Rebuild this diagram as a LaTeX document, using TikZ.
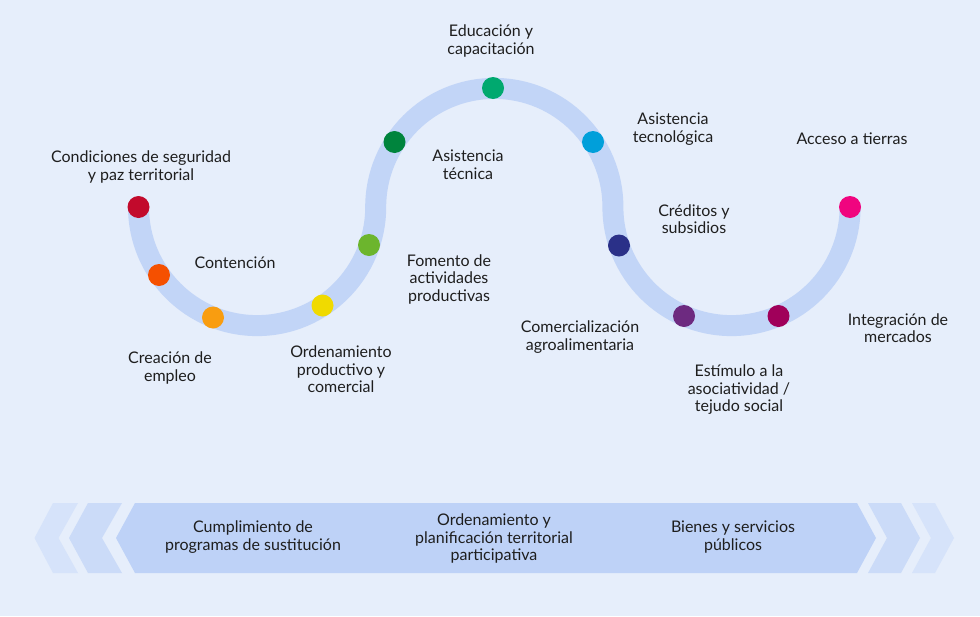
\documentclass[tikz,border=0pt]{standalone}
\usepackage{fontspec}
\setmainfont{Lato}
\usetikzlibrary{positioning}

\definecolor{bgblue}{HTML}{E6EEFB}
\definecolor{trackblue}{HTML}{C2D5F7}
\definecolor{bannerblue}{HTML}{BED2F7}
\definecolor{chevmid}{HTML}{CBDBF8}
\definecolor{chevout}{HTML}{D6E3FA}
\definecolor{textgray}{HTML}{1E1E1E}

\definecolor{cRed}{HTML}{C20A2C}
\definecolor{cOrangeRed}{HTML}{F55000}
\definecolor{cOrange}{HTML}{F99D10}
\definecolor{cYellow}{HTML}{F0DA00}
\definecolor{cLime}{HTML}{6CB52D}
\definecolor{cDarkGreen}{HTML}{00843D}
\definecolor{cTeal}{HTML}{00A96F}
\definecolor{cBlue}{HTML}{009FDA}
\definecolor{cNavy}{HTML}{2A3088}
\definecolor{cPurple}{HTML}{6D2A80}
\definecolor{cMaroon}{HTML}{A0005A}
\definecolor{cPink}{HTML}{F0047F}

\begin{document}
\begin{tikzpicture}[
	x=1pt,
	y=-1pt,
	trackline/.style={
		draw=trackblue,
		line width=21pt
	},
	stopdot/.style={
		circle,
		minimum size=22pt,
		inner sep=0pt,
		fill=#1
	},
	tagtext/.style={
		align=center,
		inner sep=0pt,
		text=textgray,
		font=\fontsize{16}{17.5}\selectfont
	}
]

\useasboundingbox (0,0) rectangle (980,616);
\fill[bgblue] (0,0) rectangle (980,616);



\def\trackradius{118.6}

\draw[trackline] (138.5,207)
	arc[start angle=180, end angle=0, radius=\trackradius]
	arc[start angle=180, end angle=360, radius=\trackradius]
	arc[start angle=180, end angle=0, radius=\trackradius];



\foreach \px/\py/\col [count=\i] in {
	138.5/207/cRed,
	159/275/cOrangeRed,
	213/317.5/cOrange,
	322.5/305.5/cYellow,
	369/245/cLime,
	394.5/142/cDarkGreen,
	493/88/cTeal,
	593/142/cBlue,
	619/245.5/cNavy,
	684/316/cPurple,
	778.5/316/cMaroon,
	850/207/cPink% the last one has no comma
} {
	\node[stopdot=\col] (stop\i) at (\px,\py) {};
}



\foreach \tx/\ty/\txt [count=\i] in {
	141/167/{Condiciones de seguridad\\y paz territorial},
	235/263/{Contención},
	170/368/{Creación de\\empleo},
	341/369.5/{Ordenamiento\\productivo y\\comercial},
	449/279/{Fomento de\\actividades\\productivas},
	468/164.5/{Asistencia\\técnica},
	491/41/{Educación y\\capacitación},
	673/129/{Asistencia\\tecnológica},
	852/139/{Acceso a tierras},
	694/219/{Créditos y\\subsidios},
	580/337/{Comercialización\\agroalimentaria},
	739/390/{Estímulo a la\\asociatividad /\\tejudo social},
	898/328/{Integración de\\mercados}%
} {
	\node[tagtext] (tag\i) at (\tx,\ty) {\txt};
}



% banner with chevrons
\fill[chevout] (53,503) -- (78,503) -- (58.5,538) -- (78,573) -- (53,573) -- (34.5,538) -- cycle;
\fill[chevmid] (88,503) -- (122,503) -- (102,538) -- (122,573) -- (88,573) -- (69,538) -- cycle;
\fill[bannerblue] (135,503) -- (857,503) -- (876,538) -- (857,573) -- (135,573) -- (116,538) -- cycle;
\fill[chevmid] (868,503) -- (901,503) -- (920,538) -- (901,573) -- (868,573) -- (887,538) -- cycle;
\fill[chevout] (912,503) -- (935,503) -- (954,538) -- (935,573) -- (912,573) -- (931,538) -- cycle;

\node[tagtext] (pillar1) at (253,537) {Cumplimiento de\\programas de sustitución};
\node[tagtext] (pillar2) at (494,538.5) {Ordenamiento y\\planificación territorial\\participativa};
\node[tagtext] (pillar3) at (733,537) {Bienes y servicios\\públicos};

\end{tikzpicture}
\end{document}
